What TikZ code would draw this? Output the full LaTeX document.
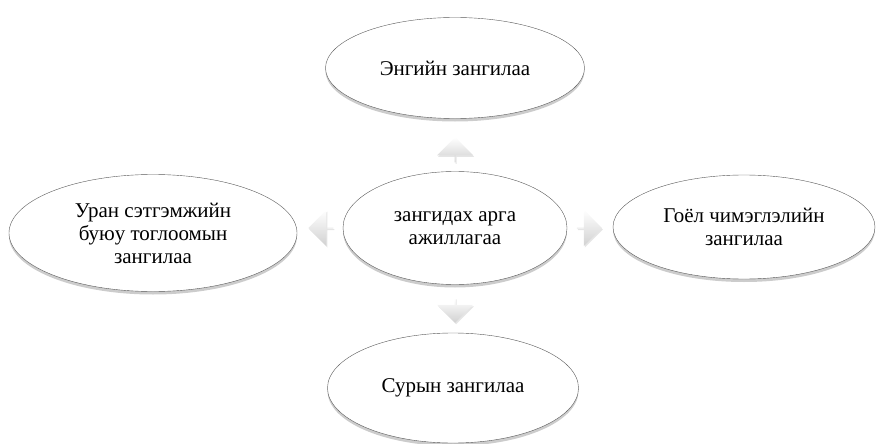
\documentclass[tikz,border=0pt]{standalone}
\usepackage{fontspec}
\setmainfont{Liberation Serif}
\newfontfamily\ovalfont{Liberation Serif}
\usetikzlibrary{shapes.geometric,shapes.arrows,shadows}

\begin{document}
\begin{tikzpicture}[x=1pt,y=-1pt,
  oval/.style={ellipse,draw=black!65,fill=white,align=center,inner sep=0pt,
    font=\ovalfont\fontsize{21}{23}\selectfont,
    drop shadow={shadow xshift=0pt,shadow yshift=-3pt,fill=black!40,opacity=0.5}},
  blockarrow/.style={single arrow,draw=none,inner sep=0pt,
    minimum width=36pt,minimum height=25pt,
    single arrow head extend=7pt,single arrow head indent=0pt,
    top color=white,bottom color=black!18,
    drop shadow={shadow xshift=1pt,shadow yshift=-1.5pt,fill=black!20,opacity=0.5}}]
\useasboundingbox (0,0) rectangle (876,444);
\coordinate (C) at (455,228);
\node[oval,minimum width=224pt,minimum height=113pt] (mid) at (C) {зангидах арга\\ажиллагаа};
\node[oval,minimum width=259pt,minimum height=101pt] (top) at (455,68) {Энгийн зангилаа};
\node[oval,minimum width=251pt,minimum height=110pt] (bot) at (453,388) {Сурын зангилаа};
\node[oval,minimum width=288pt,minimum height=117pt] (left) at (153,233) {Уран сэтгэмжийн\\буюу тоглоомын\\зангилаа};
\node[oval,minimum width=262pt,minimum height=104pt] (right) at (744,227) {Гоёл чимэглэлийн\\зангилаа};
\node[blockarrow,rotate=90] (aup) at (455,150) {};
\node[blockarrow,rotate=-90] (adown) at (455,310) {};
\node[blockarrow,rotate=180] (aleft) at (321,228) {};
\node[blockarrow] (aright) at (589,228) {};
\end{tikzpicture}
\end{document}
